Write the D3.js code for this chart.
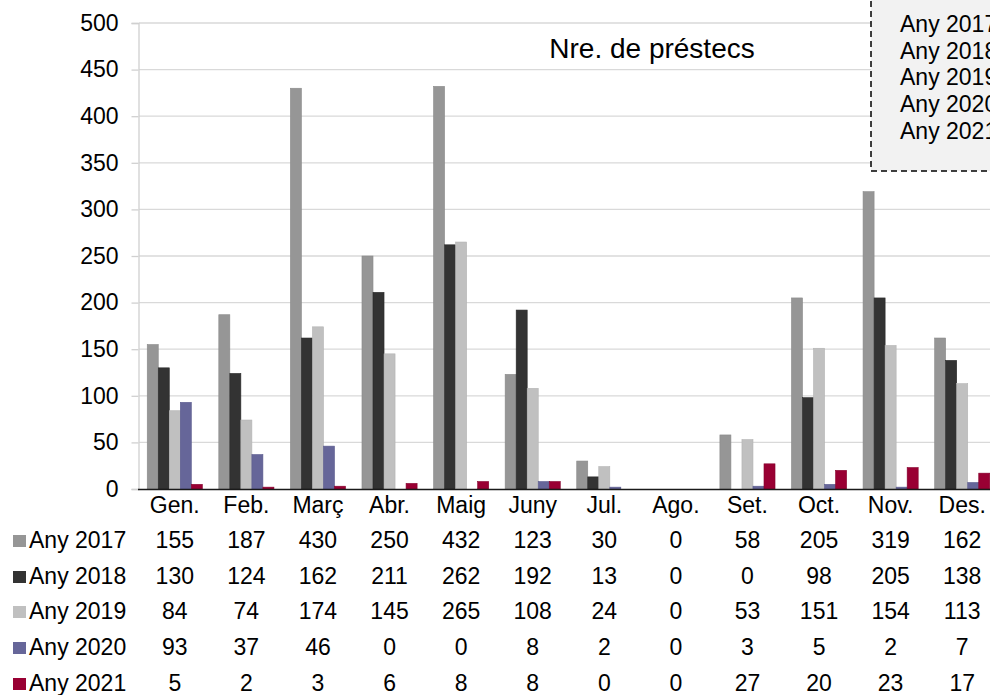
<!DOCTYPE html>
<html><head><meta charset="utf-8">
<script src="https://cdn.jsdelivr.net/npm/d3@7"></script>
<style>body{margin:0;background:#fff;}svg{display:block;font-family:"Liberation Sans",Arial,sans-serif;}</style>
</head><body>
<svg id="c" width="990" height="695"></svg>
<script>
const months = ["Gen.","Feb.","Març","Abr.","Maig","Juny","Jul.","Ago.","Set.","Oct.","Nov.","Des."];
const seriesNames = ["Any 2017","Any 2018","Any 2019","Any 2020","Any 2021"];
const v2017 = [155,187,430,250,432,123,30,0,58,205,319,162];
const v2018 = [130,124,162,211,262,192,13,0,0,98,205,138];
const v2019 = [84,74,174,145,265,108,24,0,53,151,154,113];
const v2020 = [93,37,46,0,0,8,2,0,3,5,2,7];
const v2021 = [5,2,3,6,8,8,0,0,27,20,23,17];
const yTicks = [0,50,100,150,200,250,300,350,400,450,500];
const colors = ["#969696","#333333","#c0c0c0","#666699","#990033"];
const strokes = ["#8a8a8a","#2a2a2a","#b3b3b3","#5c5c8f","#85002c"];
const series = [v2017,v2018,v2019,v2020,v2021];

const svg = d3.select("#c");
const pL = 139, pR = 998, pT = 23, pB = 489;
const FS = "23px";
const x = d3.scaleBand().domain(months).range([pL,pR]).paddingInner(0.23).paddingOuter(0.115);
const xc = d3.scaleBand().domain(months).range([pL,pR]);
const xs = d3.scaleBand().domain(d3.range(5)).range([0,x.bandwidth()]);
const y = d3.scaleLinear().domain([0,500]).range([pB,pT]);

// gridlines
svg.append("g").selectAll("line").data(yTicks.filter(d=>d>0)).join("line")
  .attr("x1",pL).attr("x2",990).attr("y1",d=>y(d)).attr("y2",d=>y(d))
  .attr("stroke","#d9d9d9").attr("stroke-width",1.3);

// y axis
const ya = svg.append("g").attr("transform",`translate(${pL-0.5},0)`)
  .call(d3.axisLeft(y).tickValues(yTicks).tickSize(7).tickPadding(13));
ya.select(".domain").attr("stroke","#d0d0d0").attr("stroke-width",1.3);
ya.selectAll(".tick line").attr("stroke","#d0d0d0").attr("stroke-width",1.3);
ya.selectAll("text").attr("font-size",FS).attr("fill","#000").attr("font-family","Liberation Sans, Arial, sans-serif");

// bars
series.forEach((vals,si)=>{
  svg.append("g").selectAll("rect").data(vals.map((v,i)=>({m:months[i],v})).filter(d=>d.v>0)).join("rect")
    .attr("x",d=>x(d.m)+xs(si)).attr("width",xs.bandwidth())
    .attr("y",d=>y(d.v)).attr("height",d=>pB-y(d.v))
    .attr("fill",colors[si]).attr("stroke",strokes[si]).attr("stroke-width",0.6);
});

// x baseline
svg.append("line").attr("x1",pL-1).attr("x2",990).attr("y1",pB+0.5).attr("y2",pB+0.5)
  .attr("stroke","#1a1a1a").attr("stroke-width",1.3);

// month labels
svg.append("g").selectAll("text").data(months).join("text")
  .attr("x",d=>xc(d)+xc.bandwidth()/2).attr("y",513)
  .attr("text-anchor","middle").attr("font-size",FS).text(d=>d);

// data table
const rowY = [548,584,619,655,691];
seriesNames.forEach((name,si)=>{
  svg.append("rect").attr("x",13).attr("y",rowY[si]-13).attr("width",13).attr("height",12).attr("fill",colors[si]);
  svg.append("text").attr("x",29).attr("y",rowY[si]).attr("font-size",FS).text(name);
  svg.append("g").selectAll("text").data(series[si]).join("text")
    .attr("x",(d,i)=>xc(months[i])+xc.bandwidth()/2).attr("y",rowY[si])
    .attr("text-anchor","middle").attr("font-size",FS).text(d=>d);
});

// title
svg.append("text").attr("x",652).attr("y",58).attr("text-anchor","middle")
  .attr("font-size","28px").text("Nre. de préstecs");

// legend box
svg.append("rect").attr("x",871).attr("y",-5).attr("width",140).attr("height",176)
  .attr("fill","#f2f2f2").attr("stroke","#000").attr("stroke-width",1.5).attr("stroke-dasharray","6,4");
svg.append("g").selectAll("text").data(seriesNames).join("text")
  .attr("x",900).attr("y",(d,i)=>32+i*26.7).attr("font-size","23px").text(d=>d);
</script>
</body></html>
